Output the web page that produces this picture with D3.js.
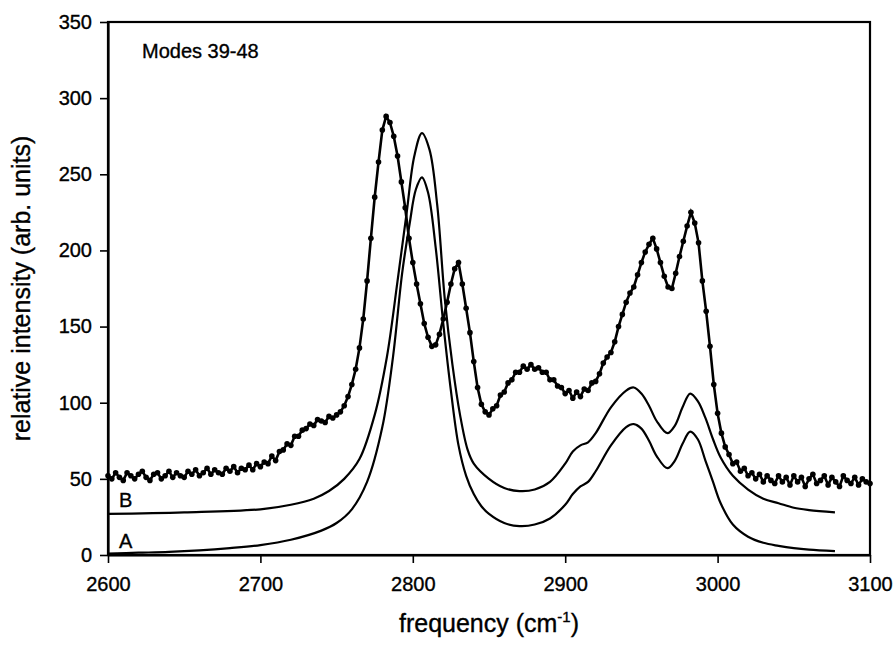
<!DOCTYPE html>
<html>
<head>
<meta charset="utf-8">
<script src="https://cdn.jsdelivr.net/npm/d3@7"></script>
<style>
  body { margin: 0; background: #fff; }
  text { font-family: "Liberation Sans", Arial, sans-serif; fill: #000; stroke: #000; stroke-width: 0.35px; }
</style>
</head>
<body>
<svg id="chart" width="896" height="646"></svg>
<script>
// measured spectrum, 2600-3100 cm-1 every 2.5 cm-1
var expStart = 2600, expStep = 2.5;
var expValues = [
  52, 50, 54, 51, 49, 54, 52, 50, 53, 55, 51, 49, 53, 54, 50, 52, 55, 51, 54, 52,
  51, 55, 53, 56, 52, 54, 57, 53, 56, 54, 53, 57, 55, 58, 54, 57, 56, 59, 56, 60,
  58, 61, 60, 65, 62, 68, 69, 73, 72, 78, 78, 82, 83, 86, 85, 89, 88, 87, 91, 90,
  92, 94, 98, 104, 112, 122, 136, 155, 180, 208, 235, 258, 279, 288, 284, 275, 262, 245, 228, 208,
  192, 178, 165, 152, 143, 137, 138, 145, 155, 166, 178, 188, 192, 178, 162, 146, 127, 110, 99, 94,
  92, 96, 98, 105, 107, 113, 115, 120, 120, 124, 122, 125, 122, 123, 120, 120, 115, 115, 111, 110,
  106, 108, 103, 107, 104, 109, 108, 113, 114, 119, 126, 130, 133, 140, 150, 158, 166, 172, 176, 184,
  192, 199, 204, 208, 201, 192, 183, 176, 175, 185, 196, 206, 216, 225, 218, 205, 180, 160, 137, 112,
  93, 80, 71, 66, 60, 61, 55, 57, 52, 54, 50, 53, 48, 52, 49, 47, 52, 48, 51, 46,
  52, 48, 51, 45, 50, 53, 47, 49, 52, 46, 51, 48, 45, 52, 49, 47, 51, 46, 50, 48,
  47
];
var expFreq = expValues.map(function (v, i) { return expStart + i * expStep; });

// calculated spectrum A
var aFreq = [2600, 2620, 2640, 2660, 2680, 2700, 2720, 2740, 2750, 2760, 2770, 2780, 2787, 2793, 2798, 2802, 2806,
  2810, 2815, 2820, 2825, 2830, 2835, 2840, 2845, 2850, 2860, 2870, 2880, 2890, 2900, 2905, 2910, 2915, 2920,
  2930, 2940, 2945, 2950, 2955, 2960, 2967, 2972, 2977, 2982, 2987, 2992, 2997, 3002, 3010, 3020, 3030, 3040,
  3050, 3060, 3077];
var aValues = [1, 1.5, 2, 3, 4.5, 6.5, 10, 16, 21, 30, 48, 84, 130, 185, 218, 240, 248,
  238, 202, 152, 108, 72, 52, 40, 32, 27, 21, 19, 20, 24, 33, 40, 45, 48, 55,
  72, 84, 86, 83, 75, 65, 57, 62, 73, 81, 76, 62, 48, 34, 20, 12, 8, 6,
  4.5, 3.5, 2.5];

// calculated spectrum B
var bFreq = [2600, 2650, 2700, 2720, 2735, 2745, 2755, 2765, 2775, 2783, 2790, 2796, 2801, 2806,
  2811, 2816, 2821, 2826, 2831, 2836, 2840, 2850, 2860, 2870, 2880, 2890, 2900, 2905, 2910, 2915, 2920,
  2930, 2940, 2945, 2950, 2955, 2960, 2967, 2972, 2977, 2982, 2987, 2992, 2997, 3002, 3010, 3020, 3030, 3040,
  3050, 3060, 3077];
var bValues = [27, 28, 30, 33, 37, 42, 50, 63, 92, 130, 180, 225, 262, 277,
  266, 230, 168, 125, 92, 69, 60, 50, 44, 42, 43, 48, 60, 68, 72, 74, 80,
  97, 108, 110, 106, 98, 88, 80, 85, 97, 106, 101, 90, 76, 64, 52, 43, 37, 34,
  31, 29.5, 28];

var xTicks = [2600, 2700, 2800, 2900, 3000, 3100];
var yTicks = [0, 50, 100, 150, 200, 250, 300, 350];

(function () {
  var svg = d3.select("#chart");
  var pLeft = 108, pRight = 870, pTop = 22, pBottom = 555;

  var x = d3.scaleLinear().domain([2600, 3100]).range([pLeft, pRight]);
  var y = d3.scaleLinear().domain([0, 350]).range([pBottom, pTop]);

  // frame
  svg.append("rect")
    .attr("x", pLeft).attr("y", pTop)
    .attr("width", pRight - pLeft).attr("height", pBottom - pTop)
    .attr("fill", "none").attr("stroke", "#000").attr("stroke-width", 2.2);

  // axes
  var yAxis = svg.append("g")
    .attr("transform", "translate(" + pLeft + ",0)")
    .call(d3.axisLeft(y).tickValues(yTicks).tickSize(8).tickPadding(8).tickSizeOuter(0));
  var xAxis = svg.append("g")
    .attr("transform", "translate(0," + pBottom + ")")
    .call(d3.axisBottom(x).tickValues(xTicks).tickFormat(d3.format("d")).tickSize(8).tickPadding(14).tickSizeOuter(0));

  [xAxis, yAxis].forEach(function (g) {
    g.select(".domain").attr("stroke-width", 2.2);
    g.selectAll(".tick line").attr("stroke-width", 1.6);
    g.selectAll(".tick text")
      .style("font-family", "'Liberation Sans', Arial, sans-serif")
      .style("font-size", "20px");
  });

  // calculated curves
  var smooth = d3.line()
    .x(function (d) { return x(d[0]); })
    .y(function (d) { return y(d[1]); })
    .curve(d3.curveCatmullRom.alpha(0.5));

  [[aFreq, aValues], [bFreq, bValues]].forEach(function (s) {
    svg.append("path")
      .datum(d3.zip(s[0], s[1]))
      .attr("d", smooth)
      .attr("fill", "none")
      .attr("stroke", "#000")
      .attr("stroke-width", 2.2);
  });

  // measured spectrum
  var expData = d3.zip(expFreq, expValues);
  svg.append("path")
    .datum(expData)
    .attr("d", d3.line().x(function (d) { return x(d[0]); }).y(function (d) { return y(d[1]); }))
    .attr("fill", "none")
    .attr("stroke", "#000")
    .attr("stroke-width", 2.6);

  svg.append("g")
    .selectAll("circle")
    .data(expData)
    .enter().append("circle")
    .attr("cx", function (d) { return x(d[0]); })
    .attr("cy", function (d) { return y(d[1]); })
    .attr("r", 2.8)
    .attr("fill", "#000");

  // labels
  svg.append("text").attr("x", 142).attr("y", 58)
    .style("font-size", "20px").text("Modes 39-48");
  svg.append("text").attr("x", 119).attr("y", 507)
    .style("font-size", "20px").text("B");
  svg.append("text").attr("x", 119).attr("y", 548)
    .style("font-size", "20px").text("A");

  var xt = svg.append("text")
    .attr("x", (pLeft + pRight) / 2).attr("y", 632)
    .attr("text-anchor", "middle")
    .style("font-size", "25px");
  xt.append("tspan").text("frequency (cm");
  xt.append("tspan").attr("dy", -10).style("font-size", "15px").text("-1");
  xt.append("tspan").attr("dy", 10).text(")");

  svg.append("text")
    .attr("transform", "translate(30," + (pTop + pBottom) / 2 + ") rotate(-90)")
    .attr("text-anchor", "middle")
    .style("font-size", "25px")
    .text("relative intensity (arb. units)");
})();
</script>
</body>
</html>
